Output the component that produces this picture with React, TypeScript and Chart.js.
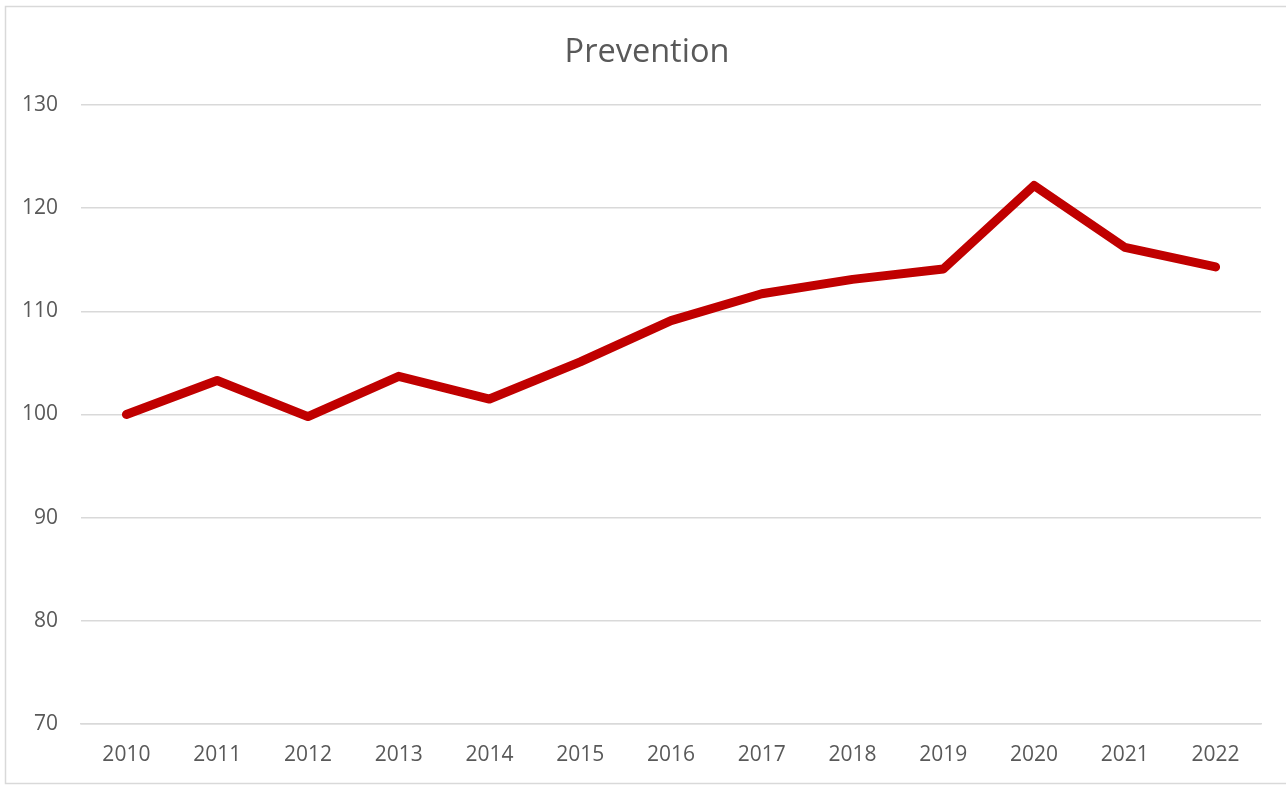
import React, { useEffect, useRef } from "react";
import { Chart, registerables } from "chart.js";

Chart.register(...registerables);

const years = ["2010", "2011", "2012", "2013", "2014", "2015", "2016", "2017", "2018", "2019", "2020", "2021", "2022"];
const prevention = [100, 103.3, 99.8, 103.7, 101.5, 105.1, 109.1, 111.7, 113.1, 114.1, 122.2, 116.2, 114.3];
const yTicks = { min: 70, max: 130, step: 10 };
const titleText = "Prevention";

const frame = {
  id: "frame",
  beforeDraw(chart: any) {
    const ctx = chart.ctx;
    ctx.save();
    ctx.fillStyle = "#ffffff";
    ctx.fillRect(0, 0, chart.width, chart.height);
    ctx.strokeStyle = "#d9d9d9";
    ctx.lineWidth = 1.5;
    ctx.strokeRect(5.5, 6.5, chart.width + 10, chart.height - 8);
    ctx.restore();
  },
};

export default function App() {
  const ref = useRef<HTMLCanvasElement | null>(null);
  useEffect(() => {
    if (!ref.current) return;
    const font = "'Open Sans', 'Liberation Sans', sans-serif";
    const chart = new Chart(ref.current, {
      type: "line",
      data: {
        labels: years,
        datasets: [
          {
            label: titleText,
            data: prevention,
            borderColor: "#C00000",
            borderWidth: 9,
            pointRadius: 0,
            borderCapStyle: "round",
            borderJoinStyle: "round",
            tension: 0,
            fill: false,
            yAxisID: "y",
          },
        ],
      },
      options: {
        animation: false,
        responsive: false,
        maintainAspectRatio: false,
        layout: { padding: { left: 8, right: 0, top: 0, bottom: 19 } },
        plugins: {
          legend: { display: false },
          tooltip: { enabled: false },
          title: {
            display: true,
            text: titleText,
            color: "#595959",
            font: { family: font, size: 32.5, weight: "normal" },
            padding: { top: 33, bottom: 33 },
          },
        },
        scales: {
          x: {
            offset: true,
            afterFit(scale: any) {
              scale.height = 42;
            },
            grid: { display: false, drawTicks: false },
            border: { display: true, color: "#d9d9d9", width: 1.5 },
            ticks: {
              color: "#595959",
              font: { family: font, size: 21 },
              padding: 18,
              maxRotation: 0,
            },
          },
          y: {
            min: yTicks.min,
            max: yTicks.max,
            afterFit(scale: any) {
              scale.width = 73;
            },
            grid: { color: "#d9d9d9", lineWidth: 1.5, drawTicks: false },
            border: { display: false },
            ticks: {
              stepSize: yTicks.step,
              color: "#595959",
              font: { family: font, size: 21 },
              padding: 23,
            },
          },
          yRight: {
            position: "right",
            min: yTicks.min,
            max: yTicks.max,
            afterFit(scale: any) {
              scale.width = 25;
            },
            grid: { display: false, drawTicks: false },
            border: { display: false },
            ticks: { display: false },
          },
        },
      },
      plugins: [frame],
    });
    return () => chart.destroy();
  }, []);
  return (
    <div style={{ position: "fixed", left: 0, top: 0, width: 1286, height: 785, background: "#fff" }}>
      <canvas ref={ref} width={1286} height={785} style={{ display: "block" }} />
    </div>
  );
}
